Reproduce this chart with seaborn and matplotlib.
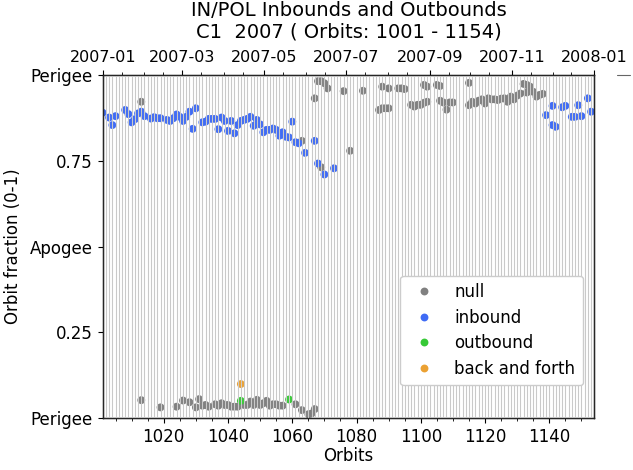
import datetime as dt
import numpy as np
import pandas as pd
import matplotlib
matplotlib.use("Agg")
import matplotlib.pyplot as plt
import matplotlib.dates as mdates
from matplotlib.lines import Line2D
import seaborn as sns

# ---------------- data (orbit number, orbit fraction) ----------------
inbound_orbits = [1001, 1003, 1004, 1005, 1008, 1009, 1010, 1011, 1012, 1013, 1014, 1016, 1017,
                  1018, 1019, 1021, 1022, 1023, 1024, 1025, 1026, 1027, 1028, 1029, 1030, 1032,
                  1033, 1034, 1035, 1036, 1037, 1038, 1039, 1040, 1041, 1042, 1043, 1044, 1045,
                  1046, 1047, 1048, 1049, 1050, 1051, 1052, 1053, 1054, 1055, 1056, 1057, 1058,
                  1059, 1060, 1061, 1062, 1064, 1067, 1068, 1070, 1073,
                  1139, 1141, 1141, 1142, 1144, 1145, 1147, 1148, 1149, 1150, 1152, 1153]
inbound_values = [0.890, 0.876, 0.854, 0.880, 0.898, 0.886, 0.862, 0.871, 0.888, 0.893, 0.880, 0.873, 0.877,
                  0.874, 0.874, 0.869, 0.866, 0.874, 0.885, 0.878, 0.866, 0.878, 0.893, 0.843, 0.903, 0.862,
                  0.864, 0.872, 0.872, 0.872, 0.842, 0.876, 0.866, 0.837, 0.866, 0.830, 0.854, 0.866, 0.869,
                  0.872, 0.878, 0.852, 0.869, 0.856, 0.833, 0.840, 0.840, 0.844, 0.840, 0.823, 0.833, 0.820,
                  0.818, 0.864, 0.804, 0.801, 0.773, 0.808, 0.742, 0.710, 0.728,
                  0.883, 0.910, 0.854, 0.849, 0.906, 0.910, 0.878, 0.878, 0.912, 0.880, 0.932, 0.893]

null_orbits = [1013, 1063, 1067, 1068, 1069, 1069, 1070, 1071, 1076, 1078, 1082, 1087, 1088, 1088,
               1089, 1090, 1090, 1093, 1094, 1095, 1097, 1098, 1099, 1100, 1101, 1101, 1102, 1102,
               1105, 1106, 1106, 1107, 1108, 1109, 1110, 1115, 1115, 1116, 1117, 1118, 1119, 1120,
               1121, 1122, 1123, 1124, 1125, 1126, 1127, 1128, 1129, 1130, 1131, 1132, 1133, 1133,
               1134, 1135, 1136, 1137, 1138,
               1013, 1019, 1024, 1026, 1028, 1030, 1031, 1032, 1033, 1034, 1036, 1037, 1038, 1039,
               1040, 1041, 1042, 1043, 1045, 1046, 1047, 1048, 1049, 1050, 1051, 1052, 1053, 1054,
               1055, 1056, 1057, 1061, 1063, 1065, 1066, 1067]
null_values = [0.922, 0.808, 0.932, 0.982, 0.982, 0.731, 0.976, 0.961, 0.953, 0.779, 0.954, 0.898, 0.966, 0.903,
               0.903, 0.903, 0.961, 0.961, 0.961, 0.959, 0.913, 0.908, 0.913, 0.913, 0.971, 0.919, 0.966, 0.922,
               0.971, 0.968, 0.925, 0.920, 0.899, 0.920, 0.920, 0.977, 0.912, 0.922, 0.917, 0.925, 0.929, 0.917,
               0.932, 0.929, 0.929, 0.927, 0.931, 0.932, 0.922, 0.937, 0.929, 0.940, 0.946, 0.974, 0.971, 0.949,
               0.966, 0.951, 0.937, 0.942, 0.945,
               0.052, 0.031, 0.033, 0.051, 0.046, 0.031, 0.055, 0.036, 0.038, 0.033, 0.040, 0.036, 0.043, 0.038,
               0.038, 0.033, 0.033, 0.033, 0.038, 0.038, 0.048, 0.038, 0.053, 0.038, 0.043, 0.050, 0.036, 0.040,
               0.040, 0.036, 0.036, 0.040, 0.023, 0.011, 0.013, 0.026]

outbound_orbits = [1044, 1059]
outbound_values = [0.050, 0.054]

backforth_orbits = [1044]
backforth_values = [0.099]

categories = ["null", "inbound", "outbound", "back and forth"]
colors = ["#808080", "#3f6bf5", "#36c936", "#eba133"]

ytick_pos = [0.0, 0.25, 0.5, 0.75, 1.0]
ytick_labels = ["Perigee", "0.25", "Apogee", "0.75", "Perigee"]
orbit_first, orbit_last = 1001, 1154
date_start, date_end = dt.datetime(2007, 1, 1), dt.datetime(2008, 1, 1)

df = pd.concat([
    pd.DataFrame({"orbit": null_orbits, "frac": null_values, "type": "null"}),
    pd.DataFrame({"orbit": inbound_orbits, "frac": inbound_values, "type": "inbound"}),
    pd.DataFrame({"orbit": outbound_orbits, "frac": outbound_values, "type": "outbound"}),
    pd.DataFrame({"orbit": backforth_orbits, "frac": backforth_values, "type": "back and forth"}),
], ignore_index=True)

# ---------------- plot ----------------
sns.set_style("ticks")
plt.rcParams["font.family"] = ["DejaVu Sans"]
plt.rcParams["text.color"] = "black"
plt.rcParams["axes.labelcolor"] = "black"
plt.rcParams["xtick.color"] = "black"
plt.rcParams["ytick.color"] = "black"

W, H = 633, 470
fig = plt.figure(figsize=(W / 100, H / 100), dpi=100)
ax = fig.add_axes([102.7 / W, 1 - 418 / H, 491.6 / W, 343 / H])

sns.scatterplot(data=df, x="orbit", y="frac", hue="type", hue_order=categories,
                palette=colors, s=32, linewidth=0, ax=ax, zorder=2)
ax.vlines(np.arange(orbit_first, orbit_last + 1), 0, 1, colors="#c9c9c9", lw=0.8, zorder=3)

ax.set_xlim(orbit_first, orbit_last)
ax.set_ylim(0, 1)
ax.set_yticks(ytick_pos)
ax.set_yticklabels(ytick_labels, fontsize=12)
ax.set_xticks(np.arange(1020, 1141, 20))
ax.set_xticks(np.arange(1005, 1154, 5), minor=True)
ax.tick_params(axis="x", labelsize=12)
ax.tick_params(which="major", length=3.5, width=0.8, color="black")
ax.tick_params(which="minor", length=2, width=0.6, color="black")
ax.set_xlabel("Orbits", fontsize=12, labelpad=1)
ax.set_ylabel("Orbit fraction (0-1)", fontsize=12, labelpad=6)
for sp in ax.spines.values():
    sp.set_color("black")
    sp.set_linewidth(1.0)

leg = ax.get_legend()
handles = leg.legend_handles
labels = [t.get_text() for t in leg.texts]
leg.remove()
ax.legend(handles, labels, loc="lower right", bbox_to_anchor=(0.977, 0.096),
          borderaxespad=0, fontsize=12, frameon=True, framealpha=1,
          edgecolor="#cccccc", borderpad=0.45, labelspacing=0.45)

ax2 = ax.twiny()
ax2.set_xlim(mdates.date2num(date_start), mdates.date2num(date_end))
ax2.xaxis.set_major_locator(mdates.MonthLocator(bymonth=[1, 3, 5, 7, 9, 11]))
ax2.xaxis.set_major_formatter(mdates.DateFormatter("%Y-%m"))
ax2.xaxis.set_minor_locator(mdates.DayLocator(bymonthday=[1, 15]))
ax2.tick_params(axis="x", labelsize=11.5)
ax2.tick_params(which="major", length=3.5, width=0.8, color="black")
ax2.tick_params(which="minor", length=2, width=0.6, color="black")

ax.set_title("IN/POL Inbounds and Outbounds\nC1  2007 ( Orbits: 1001 - 1154)",
             fontsize=14, pad=9, color="black")

fig.add_artist(Line2D([617 / W, 630 / W], [1 - 75 / H, 1 - 75 / H], color="#666666", lw=0.8))

fig.savefig("out.png", dpi=100)
